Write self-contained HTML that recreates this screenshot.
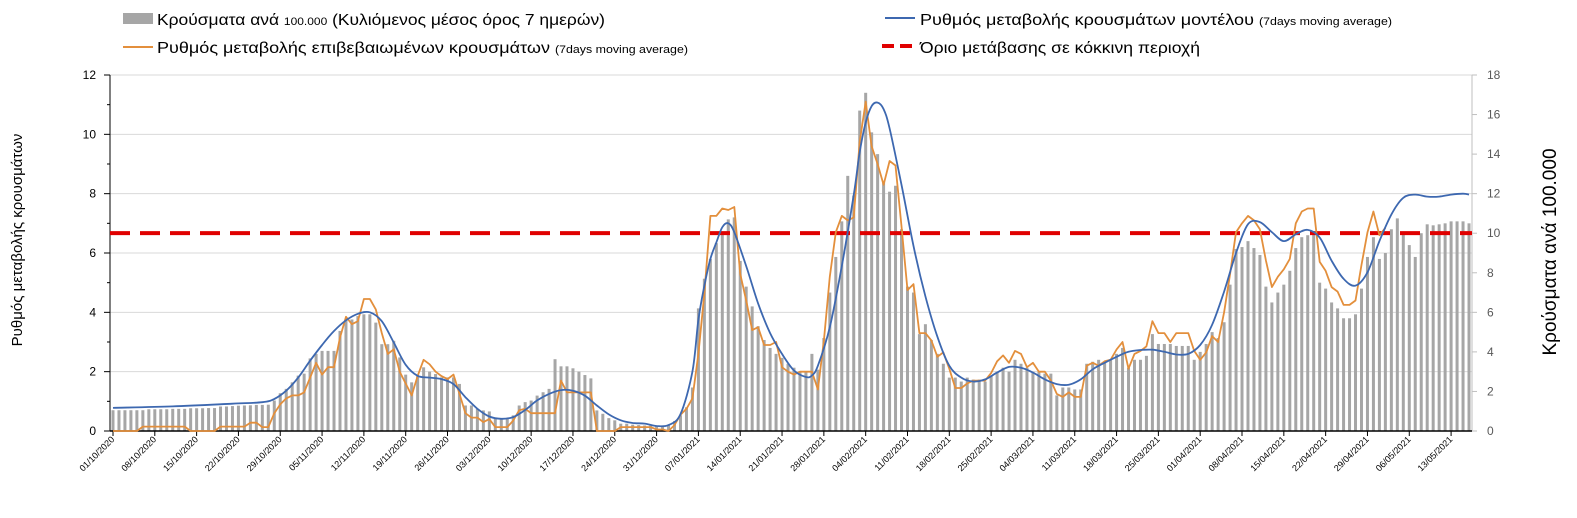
<!DOCTYPE html>
<html><head><meta charset="utf-8">
<style>
body{margin:0;background:#fff;}
svg{display:block;font-family:"Liberation Sans","Noto Sans CJK SC",sans-serif;}
</style></head>
<body>
<svg id="chart" width="1577" height="518" viewBox="0 0 1577 518" xmlns="http://www.w3.org/2000/svg">
  <g>
    <g>
      <rect x="123" y="13" width="30" height="11" fill="#a6a6a6"/>
      <text x="157" y="25" font-size="16" fill="#000" textLength="448" lengthAdjust="spacingAndGlyphs">Κρούσματα ανά <tspan font-size="11">100.000</tspan> (Κυλιόμενος μέσος όρος 7 ημερών)</text>
    </g>
    <g>
      <line x1="123" y1="47" x2="153" y2="47" stroke="#e38f3c" stroke-width="2"/>
      <text x="157" y="53" font-size="16" fill="#000" textLength="531" lengthAdjust="spacingAndGlyphs">Ρυθμός μεταβολής επιβεβαιωμένων κρουσμάτων <tspan font-size="11">(7days moving average)</tspan></text>
    </g>
    <g>
      <line x1="885" y1="18" x2="915" y2="18" stroke="#3d68b0" stroke-width="2"/>
      <text x="920" y="25" font-size="16" fill="#000" textLength="472" lengthAdjust="spacingAndGlyphs">Ρυθμός μεταβολής κρουσμάτων μοντέλου <tspan font-size="11">(7days moving average)</tspan></text>
    </g>
    <g>
      <line x1="882" y1="46" x2="918" y2="46" stroke="#e00000" stroke-width="4" stroke-dasharray="12,6"/>
      <text x="920" y="53" font-size="16" fill="#000" textLength="280" lengthAdjust="spacingAndGlyphs">Όριο μετάβασης σε κόκκινη περιοχή</text>
    </g>
  </g>
  <text transform="translate(22,240) rotate(-90)" text-anchor="middle" font-size="15" fill="#000">Ρυθμός μεταβολής κρουσμάτων</text>
  <text transform="translate(1556,252) rotate(-90)" text-anchor="middle" font-size="19" fill="#000">Κρούσματα ανά 100.000</text>
  <g id="grid"></g>
  <g id="bars"></g>
  <g id="axes"></g>
  <g id="lines"></g>
</svg>
<script>
const startDate = [2020, 10, 1];
const leftTicks = [0, 2, 4, 6, 8, 10, 12];
const rightTicks = [0, 2, 4, 6, 8, 10, 12, 14, 16, 18];
const redThreshold = [6.67];
const cases = [
1.05,1.05,1.05,1.05,1.05,1.05,1.1,1.1,1.1,1.1,1.12,1.12,1.12,1.15,1.15,1.15,1.16,1.16,1.24,1.24,1.26,1.28,1.29,1.3,1.32,1.32,1.33,1.54,1.91,2.13,
2.46,2.8,2.9,3.67,3.9,4.05,4.05,4.05,5.06,5.64,5.64,5.81,5.9,5.9,5.48,4.39,4.39,4.56,3.72,2.85,2.46,2.8,3.22,3.0,2.88,2.71,2.71,2.71,2.38,1.29,
1.29,1.12,1.04,0.99,0.62,0.59,0.62,0.79,1.29,1.46,1.54,1.79,1.96,2.13,3.63,3.27,3.27,3.17,3.0,2.83,2.66,1.04,0.87,0.65,0.54,0.37,0.37,0.32,0.3,0.28,
0.27,0.26,0.25,0.3,0.5,0.8,1.2,2.2,6.2,7.7,8.7,9.5,10.0,10.7,10.8,8.6,7.3,6.3,5.3,4.6,4.2,3.9,3.7,3.4,3.2,3.0,3.0,3.9,3.1,4.7,
7.0,8.8,10.6,12.9,11.9,16.2,17.1,15.1,14.0,12.6,12.1,12.4,10.2,7.3,7.0,4.9,5.4,4.6,3.9,3.4,2.7,2.7,2.5,2.7,2.6,2.6,2.5,2.8,3.0,3.2,
3.0,3.6,3.4,3.2,3.0,3.0,2.9,2.9,1.8,2.2,2.2,2.1,2.1,3.4,3.5,3.6,3.5,3.6,3.9,4.2,3.2,3.6,3.6,3.8,4.9,4.4,4.4,4.4,4.3,4.3,
4.3,3.6,4.0,4.4,5.0,4.7,5.5,7.4,9.2,9.3,9.6,9.25,8.9,7.3,6.5,7.0,7.4,8.1,9.25,9.8,9.9,10.0,7.5,7.2,6.5,6.2,5.7,5.7,5.9,7.2,
8.8,9.8,8.7,9.0,10.2,10.75,10.0,9.4,8.8,10.0,10.45,10.4,10.45,10.5,10.6,10.6,10.6,10.5
];
const confirmedRate = [
0,0,0,0,0,0.15,0.15,0.15,0.15,0.15,0.15,0.15,0.15,0,0,0,0,0,0.15,0.15,0.15,0.15,0.15,0.28,0.28,0.13,0.13,0.6,0.9,1.1,
1.2,1.2,1.3,1.8,2.3,1.9,2.15,2.15,3.15,3.85,3.6,3.7,4.45,4.45,4.1,3.3,2.6,2.75,2.0,1.6,1.2,1.85,2.4,2.25,2.0,1.85,1.75,1.9,1.25,0.6,
0.45,0.45,0.3,0.4,0.13,0.13,0.13,0.35,0.7,0.75,0.6,0.6,0.6,0.6,0.6,1.7,1.3,1.3,1.3,1.3,1.3,0,0,0,0,0.13,0.13,0.13,0.13,0.13,
0.13,0.05,0.05,0,0.2,0.55,0.75,1.1,2.6,4.65,7.25,7.25,7.5,7.45,7.55,5.3,4.4,3.4,3.5,2.9,2.9,3.0,2.15,2.0,1.9,2.0,2.0,2.0,1.4,3.05,
5.2,6.7,7.25,7.1,7.2,9.75,11.1,9.6,9.0,8.3,9.1,8.95,6.9,4.75,4.95,3.3,3.3,3.05,2.5,2.65,2.1,1.45,1.45,1.6,1.7,1.7,1.7,1.95,2.35,2.55,
2.3,2.7,2.6,2.15,2.3,2.0,2.0,1.7,1.25,1.15,1.3,1.15,1.15,2.2,2.3,2.2,2.35,2.4,2.75,3.0,2.1,2.6,2.7,2.85,3.7,3.3,3.3,3.0,3.3,3.3,
3.3,2.7,2.4,2.65,3.2,3.0,4.0,5.3,6.7,7.0,7.25,7.1,6.8,5.75,4.85,5.2,5.45,5.8,7.0,7.4,7.5,7.5,5.7,5.4,4.85,4.7,4.25,4.25,4.4,5.6,
6.7,7.4,6.6,6.85
];
const modelDays = [0,10,20,25,27,29,31,33,35,37,39,41,43,45,47,49,51,53,55,57,59,61,63,65,67,69,71,73,75,77,79,81,83,85,87,89,91,93,95,97,98,99,100,101,102,103,104,106,108,110,112,114,116,117,118,120,122,124,125,126,127,128,129,130,132,134,136,138,140,142,144,146,148,150,152,154,156,158,160,162,164,166,168,170,172,174,176,178,180,182,184,186,188,190,192,194,196,198,200,202,204,206,208,210,212,214,216,218,220,222,224,226,227];
const modelRate = [0.78,0.83,0.92,0.97,1.08,1.36,1.8,2.37,2.9,3.37,3.73,3.95,4.0,3.7,2.98,2.23,1.86,1.8,1.75,1.58,1.14,0.75,0.49,0.41,0.47,0.71,1.03,1.25,1.38,1.36,1.19,0.86,0.56,0.36,0.27,0.25,0.17,0.2,0.57,2.0,3.75,4.9,5.8,6.35,6.87,7.0,6.7,5.56,4.3,3.3,2.6,2.04,1.82,1.87,2.2,3.5,5.56,7.95,9.4,10.4,10.95,11.07,10.85,10.2,8.3,6.24,4.54,3.18,2.2,1.8,1.67,1.74,1.97,2.16,2.13,1.97,1.74,1.58,1.56,1.74,2.08,2.3,2.5,2.67,2.73,2.74,2.67,2.58,2.6,2.9,3.58,4.7,6.0,6.97,7.04,6.7,6.4,6.63,6.78,6.52,5.74,5.13,4.9,5.35,6.4,7.3,7.86,7.97,7.9,7.9,7.97,8.0,7.97];

const NS = "http://www.w3.org/2000/svg";
const X0 = 110, X1 = 1472, YT = 75, YB = 431, NDAYS = cases.length;
const BW = (X1 - X0) / NDAYS;
function xs(d){ return X0 + (d + 0.5) * BW; }
function yl(v){ return YB - v / 12 * (YB - YT); }
function yr(v){ return YB - v / 18 * (YB - YT); }
function mk(tag, attrs, parent){ const e = document.createElementNS(NS, tag); for (const k in attrs) e.setAttribute(k, attrs[k]); parent.appendChild(e); return e; }

const grid = document.getElementById('grid');
const axes = document.getElementById('axes');
const barsG = document.getElementById('bars');
const linesG = document.getElementById('lines');

leftTicks.forEach(t => {
  if (t > 0) {
    const g = mk('line', {x1: X0, x2: X1, y1: yl(t), y2: yl(t), stroke: '#d9d9d9', 'stroke-width': 1}, grid);
    
    
  }
  const lb = mk('text', {x: 96, y: yl(t) + 4, 'text-anchor': 'end', 'font-size': 12, fill: '#000'}, axes);
  lb.textContent = t;
  
  
  mk('line', {x1: X0 - 6, x2: X0, y1: yl(t), y2: yl(t), stroke: '#000', 'stroke-width': 1}, axes);
  if (t < 12) mk('line', {x1: X0 - 3, x2: X0, y1: yl(t + 1), y2: yl(t + 1), stroke: '#000', 'stroke-width': 1}, axes);
});
rightTicks.forEach(t => {
  const lb = mk('text', {x: 1487, y: yr(t) + 4, 'font-size': 12, fill: '#595959'}, axes);
  lb.textContent = t;
  
  
  mk('line', {x1: X1, x2: X1 + 5, y1: yr(t), y2: yr(t), stroke: '#bfbfbf', 'stroke-width': 1}, axes);
});
const ya = mk('line', {x1: X0, x2: X0, y1: YT, y2: YB, stroke: '#000', 'stroke-width': 1}, axes);


const yra = mk('line', {x1: X1, x2: X1, y1: YT, y2: YB, stroke: '#bfbfbf', 'stroke-width': 1}, axes);



cases.forEach((v, i) => {
  const h = YB - yr(v);
  const r = mk('rect', {x: xs(i) - 1.5, y: yr(v), width: 3, height: h, fill: '#a6a6a6'}, barsG);
  
  
});

const xa = mk('line', {x1: X0, x2: X1, y1: YB, y2: YB, stroke: '#000', 'stroke-width': 1.5}, axes);


const base = new Date(startDate[0], startDate[1] - 1, startDate[2]);
for (let d = 0; d < NDAYS; d += 7) {
  const x = xs(d);
  mk('line', {x1: x, x2: x, y1: YB, y2: YB + 5, stroke: '#000', 'stroke-width': 1}, axes);
  const dt = new Date(base.getTime()); dt.setDate(base.getDate() + d);
  const s = String(dt.getDate()).padStart(2, '0') + '/' + String(dt.getMonth() + 1).padStart(2, '0') + '/' + dt.getFullYear();
  const lb = mk('text', {x: x + 2, y: YB + 9, 'text-anchor': 'end', 'font-size': 9, fill: '#000', transform: `rotate(-45 ${x + 2} ${YB + 9})`}, axes);
  lb.textContent = s;
  
  
}

const rl = mk('line', {x1: X0, x2: X1, y1: yl(redThreshold[0]), y2: yl(redThreshold[0]), stroke: '#e00000', 'stroke-width': 4, 'stroke-dasharray': '20,10'}, linesG);



let pO = confirmedRate.map((v, i) => (i ? 'L' : 'M') + xs(i).toFixed(1) + ',' + yl(v).toFixed(1)).join('');
const ol = mk('path', {d: pO, fill: 'none', stroke: '#e38f3c', 'stroke-width': 1.8, 'stroke-linejoin': 'round'}, linesG);



const pts = modelDays.map((d, i) => [xs(d), yl(modelRate[i])]);
let pB = 'M' + pts[0][0] + ',' + pts[0][1];
for (let i = 0; i < pts.length - 1; i++) {
  const p0 = pts[Math.max(0, i - 1)], p1 = pts[i], p2 = pts[i + 1], p3 = pts[Math.min(pts.length - 1, i + 2)];
  const c1 = [p1[0] + (p2[0] - p0[0]) / 6, p1[1] + (p2[1] - p0[1]) / 6];
  const c2 = [p2[0] - (p3[0] - p1[0]) / 6, p2[1] - (p3[1] - p1[1]) / 6];
  pB += `C${c1[0].toFixed(1)},${c1[1].toFixed(1)} ${c2[0].toFixed(1)},${c2[1].toFixed(1)} ${p2[0].toFixed(1)},${p2[1].toFixed(1)}`;
}
const bl = mk('path', {d: pB, fill: 'none', stroke: '#3d68b0', 'stroke-width': 1.8}, linesG);


</script>
</body></html>
